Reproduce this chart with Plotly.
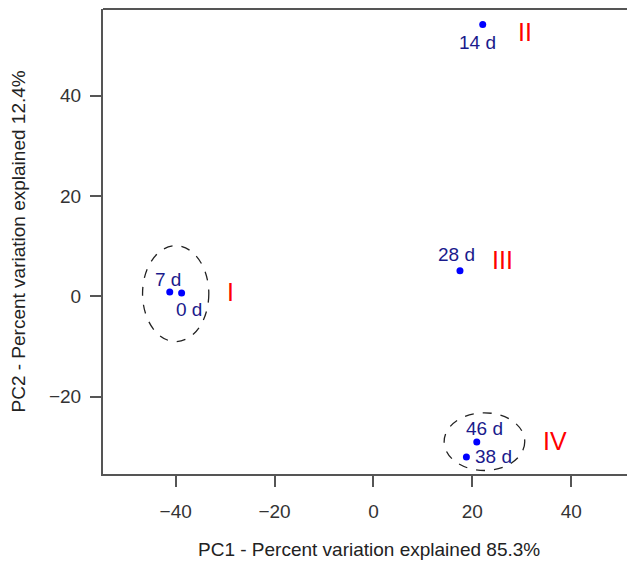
import plotly.graph_objects as go

# Data
samples = ["0 d", "7 d", "14 d", "28 d", "38 d", "46 d"]
pc1 = [-38.8, -41.2, 22.1, 17.5, 18.8, 20.9]
pc2 = [0.7, 0.9, 54.2, 5.1, -32.0, -29.0]
# label offsets from the point, in pixels
label_dx = [7, -2, -5, -3, 27, 8]
label_dy = [-17, 12, -18, 16, 0, 13.5]

groups = ["I", "II", "III", "IV"]
group_x = [-29.0, 30.6, 26.0, 36.7]
group_y = [0.8, 52.8, 7.2, -28.8]

# cluster ellipses (x0, x1, y0, y1)
ell_x0 = [-46.7, 14.3]
ell_x1 = [-33.3, 30.6]
ell_y0 = [-9.0, -34.7]
ell_y1 = [10.1, -23.2]

FONT = "Liberation Sans, Arial, sans-serif"

fig = go.Figure()
fig.add_trace(go.Scatter(
    x=pc1, y=pc2, mode="markers",
    marker=dict(color="#0000ff", size=7),
    cliponaxis=False, showlegend=False, hoverinfo="skip"))

for s, x, y, dx, dy in zip(samples, pc1, pc2, label_dx, label_dy):
    fig.add_annotation(x=x, y=y, text=s, showarrow=False, xanchor="center", yanchor="middle",
                       xshift=dx, yshift=dy, font=dict(color="#1a1a8c", size=19, family=FONT))

for g, x, y in zip(groups, group_x, group_y):
    fig.add_annotation(x=x, y=y, text=g, showarrow=False, xanchor="center", yanchor="middle",
                       font=dict(color="#ff0000", size=25, family=FONT))

for x0, x1, y0, y1 in zip(ell_x0, ell_x1, ell_y0, ell_y1):
    fig.add_shape(type="circle", xref="x", yref="y", x0=x0, x1=x1, y0=y0, y1=y1,
                  line=dict(color="#222222", width=1.3, dash="dash"))

# top border
fig.add_shape(type="line", xref="paper", yref="paper", x0=0, x1=1, y0=1, y1=1,
              line=dict(color="#555555", width=2))

# axis titles
fig.add_annotation(xref="paper", yref="paper", x=0.5, y=0, xanchor="center", yanchor="middle",
                   yshift=-75, showarrow=False,
                   text="PC1 - Percent variation explained 85.3%",
                   font=dict(size=19, color="#222222", family=FONT))
fig.add_annotation(xref="paper", yref="paper", x=0, y=0.5, xanchor="center", yanchor="middle",
                   xshift=-85, textangle=-90, showarrow=False,
                   text="PC2 - Percent variation explained 12.4%",
                   font=dict(size=19, color="#222222", family=FONT))

axis_common = dict(showgrid=False, zeroline=False, showline=True, linecolor="#555555", linewidth=2,
                   ticks="outside", ticklen=11, tickwidth=1.5, tickcolor="#555555",
                   tickfont=dict(size=19, color="#333333", family=FONT), automargin=False)
fig.update_xaxes(range=[-54.7, 52.9], tickvals=[-40, -20, 0, 20, 40],
                 ticktext=["\u221240", "\u221220", "0", "20", "40"], ticklabelstandoff=8,
                 **axis_common)
fig.update_yaxes(range=[-35.4, 57.3], tickvals=[-20, 0, 20, 40],
                 ticktext=["\u221220", "0", "20", "40"], ticklabelstandoff=5,
                 **axis_common)

# page body has an 8px default margin, so the figure is sized/offset to compensate
fig.update_layout(width=627, height=557, plot_bgcolor="white", paper_bgcolor="white",
                  margin=dict(l=95, r=0, t=1, b=91, autoexpand=False), showlegend=False)

fig.write_html("out.html")
